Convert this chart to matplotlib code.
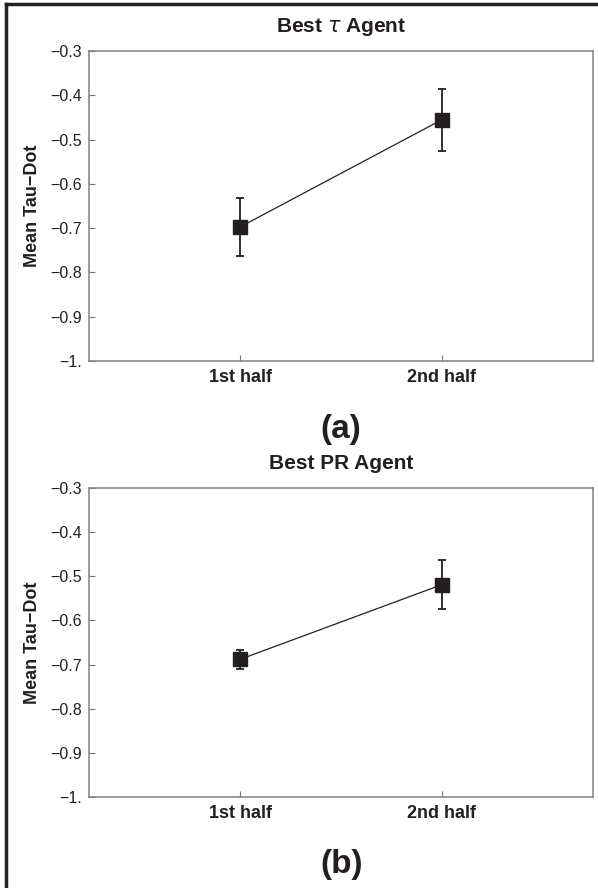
import matplotlib.pyplot as plt
from matplotlib.lines import Line2D

plt.rcParams['font.family'] = ['Liberation Sans', 'DejaVu Sans']

# data
phases = ["1st half", "2nd half"]
tau_mean = [-0.697, -0.455]
tau_err = [0.065, 0.07]
pr_mean = [-0.688, -0.519]
pr_err = [0.022, 0.055]

titles = [r"Best $\tau$ Agent", "Best PR Agent"]
tags = ["(a)", "(b)"]
yticks = [-0.3, -0.4, -0.5, -0.6, -0.7, -0.8, -0.9, -1.0]
ytick_labels = ["\u22120.3", "\u22120.4", "\u22120.5", "\u22120.6",
                "\u22120.7", "\u22120.8", "\u22120.9", "\u22121."]

fig = plt.figure(figsize=(5.98, 8.88), dpi=100)
ax_top = fig.add_axes([0.149, 0.5935, 0.843, 0.349])
ax_bot = fig.add_axes([0.149, 0.1025, 0.843, 0.348])

ink = "#231f20"
for ax, means, errs, title, tag in zip([ax_top, ax_bot], [tau_mean, pr_mean],
                                       [tau_err, pr_err], titles, tags):
    x = [1, 2]
    ax.plot(x, means, color=ink, lw=0.9)
    ax.errorbar(x, means, yerr=errs, fmt="none", ecolor=ink, elinewidth=1.3,
                capsize=2.8, capthick=1.3)
    ax.plot(x, means, "s", color=ink, ms=9.5)
    ax.set_xlim(0.25, 2.75)
    ax.set_ylim(-1.0, -0.3)
    ax.set_yticks(yticks)
    ax.set_yticklabels(ytick_labels, fontsize=11.5, color=ink)
    ax.set_xticks(x)
    ax.set_xticklabels(phases, fontsize=13, fontweight="bold", color=ink)
    ax.tick_params(axis="y", direction="in", length=4, color="#777777", pad=5)
    ax.tick_params(axis="x", direction="in", length=4, color="#777777", pad=6)
    for s in ax.spines.values():
        s.set_color("#808080")
        s.set_linewidth(1.1)
    ax.set_title(title, fontsize=15, fontweight="bold", pad=14, color=ink)
    ax.set_ylabel("Mean Tau\u2212Dot", fontsize=13, fontweight="bold",
                  labelpad=7, color=ink)
    ax.text(0.5, -0.22, tag, transform=ax.transAxes, ha="center", va="center",
            fontsize=24, fontweight="bold", color=ink)

# outer frame (top and left edges visible)
fig.add_artist(Line2D([6 / 598, 6 / 598], [0, 1 - 4 / 888], transform=fig.transFigure,
                      color=ink, lw=2.5))
fig.add_artist(Line2D([6 / 598, 1], [1 - 4 / 888, 1 - 4 / 888], transform=fig.transFigure,
                      color=ink, lw=2.5))

fig.savefig("out.png", dpi=100)
